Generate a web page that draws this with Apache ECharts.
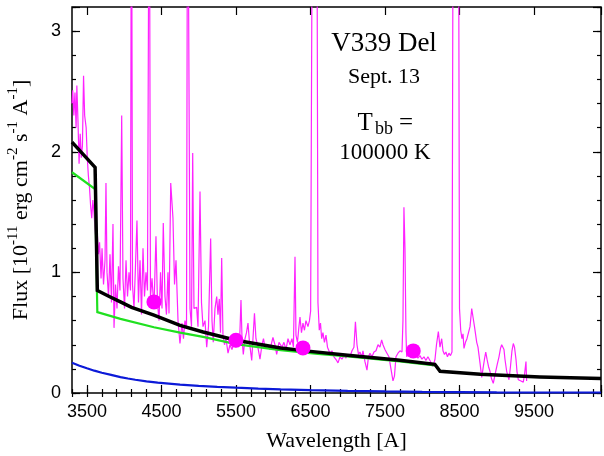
<!DOCTYPE html>
<html>
<head>
<meta charset="utf-8">
<script src="https://cdn.jsdelivr.net/npm/echarts@6.0.0/dist/echarts.min.js"></script>
<style>
  html, body { margin: 0; padding: 0; background: #fff; }
  #chart { width: 604px; height: 456px; }
</style>
</head>
<body>
<div id="chart"></div>
<script>
// observed spectrum (wavelength in A, flux in 1e-11 erg/cm2/s/A)
const spectrumWave = [3300, 3310, 3325, 3340, 3355, 3365, 3380, 3395, 3410, 3425, 3440, 3455, 3470, 3490, 3505, 3520, 3535, 3550, 3565, 3580, 3595, 3610, 3625, 3640, 3655,
  3670, 3690, 3703, 3723, 3743, 3756, 3770, 3790, 3810, 3830, 3850, 3864, 3884, 3904, 3924, 3944, 3967, 3984, 4005, 4025, 4045, 4065, 4085, 4098, 4112, 4132, 4152, 4172, 4192,
  4213, 4233, 4253, 4273, 4293, 4313, 4337, 4353, 4374, 4400, 4427, 4447, 4468, 4488, 4508, 4525, 4548, 4568, 4588, 4602, 4625, 4655, 4676, 4696, 4723, 4749, 4776, 4796, 4816,
  4837, 4852, 4875, 4884, 4904, 4920, 4937, 4973, 4991, 5018, 5038, 5058, 5085, 5108, 5132, 5161, 5179, 5196, 5219, 5242, 5259, 5277, 5293, 5309, 5326, 5347, 5367, 5394, 5420,
  5447, 5474, 5501, 5528, 5548, 5568, 5582, 5599, 5622, 5642, 5662, 5682, 5712, 5729, 5749, 5769, 5789, 5823, 5850, 5870, 5890, 5917, 5957, 5997, 6024, 6047, 6078, 6118, 6145,
  6172, 6199, 6226, 6252, 6272, 6293, 6306, 6326, 6346, 6360, 6380, 6400, 6420, 6440, 6467, 6487, 6503, 6530, 6584, 6601, 6619, 6635, 6651, 6668, 6688, 6709, 6729, 6762, 6789,
  6816, 6852, 6870, 6897, 6923, 6950, 6977, 7004, 7031, 7058, 7084, 7104, 7125, 7145, 7165, 7192, 7205, 7232, 7259, 7279, 7299, 7326, 7353, 7380, 7407, 7433, 7456, 7474, 7500,
  7527, 7554, 7581, 7608, 7628, 7648, 7675, 7702, 7729, 7742, 7755, 7769, 7782, 7792, 7809, 7836, 7863, 7917, 7943, 7970, 7997, 8024, 8050, 8077, 8104, 8124, 8145, 8172, 8192,
  8217, 8239, 8262, 8279, 8299, 8319, 8339, 8359, 8380, 8400, 8418, 8485, 8501, 8517, 8534, 8548, 8561, 8581, 8601, 8622, 8642, 8665, 8682, 8702, 8732, 8749, 8776, 8799, 8816,
  8836, 8853, 8870, 8890, 8910, 8930, 8954, 8977, 9008, 9031, 9051, 9067, 9085, 9098, 9111, 9134, 9165, 9185, 9205, 9223, 9239, 9259, 9272, 9290, 9326, 9357, 9373, 9393, 9402];
const spectrumFlux = [2.40, 2.51, 2.30, 2.49, 2.20, 2.55, 2.26, 1.90, 2.15, 1.95, 2.05, 2.63, 2.30, 2.20, 1.95, 1.80, 1.70, 1.55, 1.45, 1.60, 1.50, 1.35, 1.25, 1.32, 1.15,
  1.25, 0.95, 1.20, 0.90, 1.10, 1.74, 1.00, 0.80, 1.15, 0.75, 1.40, 0.54, 0.90, 0.70, 1.05, 0.85, 2.30, 0.95, 0.70, 1.10, 0.80, 1.00, 0.85, 5.0, 0.90, 0.70, 1.05, 1.43, 0.75,
  1.10, 0.65, 1.20, 0.80, 1.00, 0.85, 5.0, 0.80, 0.95, 0.70, 1.30, 0.75, 0.60, 1.00, 0.70, 1.41, 0.80, 0.65, 1.00, 0.66, 1.74, 1.45, 0.90, 1.10, 0.60, 0.41, 0.58, 0.45, 0.60,
  0.55, 5.0, 5.0, 0.70, 0.55, 1.99, 0.70, 0.71, 0.55, 1.67, 0.75, 0.55, 0.60, 0.38, 0.55, 1.28, 0.60, 0.42, 0.70, 0.80, 0.65, 0.78, 0.50, 1.12, 0.48, 0.40, 0.45, 0.33, 0.40,
  0.36, 0.42, 0.38, 0.45, 0.40, 0.77, 0.45, 0.32, 0.45, 0.50, 0.58, 0.42, 0.27, 0.45, 0.66, 0.45, 0.40, 0.28, 0.40, 0.45, 0.38, 0.40, 0.36, 0.46, 0.40, 0.32, 0.42, 0.38, 0.42,
  0.36, 0.45, 0.40, 0.45, 0.38, 1.13, 0.48, 0.42, 0.55, 0.63, 0.50, 0.58, 0.52, 0.60, 0.55, 0.60, 0.68, 5.0, 5.0, 0.75, 0.52, 0.58, 0.45, 0.50, 0.42, 0.48, 0.38, 0.33, 0.35,
  0.30, 0.27, 0.25, 0.30, 0.28, 0.31, 0.29, 0.32, 0.30, 0.35, 0.38, 0.59, 0.40, 0.32, 0.34, 0.30, 0.35, 0.26, 0.19, 0.30, 0.33, 0.30, 0.34, 0.35, 0.40, 0.38, 0.44, 0.40, 0.36,
  0.33, 0.30, 0.20, 0.10, 0.14, 0.30, 0.33, 0.35, 0.34, 0.60, 1.54, 1.20, 0.50, 0.30, 0.32, 0.33, 0.34, 0.31, 0.29, 0.31, 0.28, 0.30, 0.27, 0.30, 0.27, 0.26, 0.22, 0.28, 0.40,
  0.51, 0.38, 0.45, 0.35, 0.32, 0.34, 0.30, 0.33, 0.31, 0.34, 5.0, 5.0, 0.70, 0.52, 0.45, 0.49, 0.37, 0.42, 0.45, 0.44, 0.55, 0.70, 0.63, 0.55, 0.42, 0.38, 0.25, 0.13, 0.20,
  0.28, 0.34, 0.28, 0.22, 0.18, 0.12, 0.08, 0.15, 0.24, 0.30, 0.37, 0.40, 0.39, 0.36, 0.28, 0.18, 0.11, 0.22, 0.35, 0.41, 0.38, 0.28, 0.18, 0.11, 0.10, 0.09, 0.15, 0.26, 0.10];

// total model (black)
const modelWave = [3300, 3610, 3640, 3800, 3950, 4100, 4400, 4750, 5060, 5500, 6100, 6500, 7000, 7700, 8170, 8240, 8780, 9580, 10400];
const modelFlux = [2.08, 1.87, 0.85, 0.80, 0.755, 0.71, 0.645, 0.56, 0.506, 0.437, 0.373, 0.345, 0.313, 0.272, 0.238, 0.18, 0.155, 0.133, 0.12];

// nebular component (green)
const nebWave = [3300, 3610, 3640, 3950, 4400, 4750, 5060, 5500, 6100, 6600, 7000, 7700, 8170];
const nebFlux = [1.83, 1.69, 0.67, 0.615, 0.545, 0.50, 0.465, 0.405, 0.355, 0.325, 0.303, 0.262, 0.228];

// blackbody 100000 K (blue)
const bbWave = [3300, 3400, 3500, 3600, 3700, 3825, 3950, 4050, 4150, 4300, 4450, 4600, 4750, 5000, 5250, 5500, 5800, 6100, 6500, 7000, 7500, 8000, 9000, 10400];
const bbFlux = [0.25, 0.226, 0.205, 0.185, 0.168, 0.15, 0.132, 0.12, 0.11, 0.097, 0.086, 0.078, 0.07, 0.059, 0.051, 0.044, 0.036, 0.03, 0.024, 0.018, 0.013, 0.01, 0.006, 0.004];

// photometry (B V R I)
const photWave = [4400, 5500, 6400, 7880];
const photFlux = [0.755, 0.437, 0.374, 0.349];

const xTickLabels = [3500, 4500, 5500, 6500, 7500, 8500, 9500];
const yTickLabels = [0, 1, 2, 3];

const pairs = (xs, ys) => xs.map((x, i) => [x, ys[i]]);

const serif = 'Liberation Serif';
const sans = 'Liberation Sans';

// plot box in pixels
const plotLeft = 72, plotRight = 3, plotTop = 7, plotBottom = 63;
const xMin = 3300, xMax = 10400;
// second grid starts at the first labelled tick so its ticks count from 0
const majorLeft = plotLeft + (xTickLabels[0] - xMin) / (xMax - xMin) * (604 - plotLeft - plotRight);

function tickAxis(extra, len) {
  return Object.assign({
    type: 'value',
    axisLine: { show: false },
    splitLine: { show: false },
    axisLabel: { show: false },
    axisTick: { show: true, inside: true, length: len, lineStyle: { color: '#000', width: 1.2 } }
  }, extra);
}

const chart = echarts.init(document.getElementById('chart'));
chart.setOption({
  animation: false,
  backgroundColor: '#fff',
  grid: [
    {
      left: plotLeft, right: plotRight, top: plotTop, bottom: plotBottom,
      containLabel: false, outerBoundsMode: 'none',
      show: true, borderColor: '#000', borderWidth: 1.5, backgroundColor: 'transparent'
    },
    { left: majorLeft, right: plotRight, top: plotTop, bottom: plotBottom, containLabel: false, outerBoundsMode: 'none' }
  ],
  xAxis: [
    { type: 'value', gridIndex: 0, min: xMin, max: xMax, show: false },
    tickAxis({
      gridIndex: 0, position: 'bottom', min: 0, max: xMax - xMin, interval: 200,
      name: 'Wavelength [A]', nameLocation: 'middle', nameGap: 37,
      nameTextStyle: { fontFamily: serif, fontSize: 22, color: '#000' }
    }, 4),
    tickAxis({ gridIndex: 0, position: 'top', min: 0, max: xMax - xMin, interval: 200 }, 4),
    tickAxis({
      gridIndex: 1, position: 'bottom', min: 0, max: xMax - xTickLabels[0], interval: 1000,
      axisLabel: {
        show: true, margin: 10, fontFamily: sans, fontSize: 18, color: '#000',
        formatter: v => xTickLabels.includes(v + xTickLabels[0]) ? String(v + xTickLabels[0]) : ''
      }
    }, 8),
    tickAxis({ gridIndex: 1, position: 'top', min: 0, max: xMax - xTickLabels[0], interval: 1000 }, 8)
  ],
  yAxis: [
    { type: 'value', gridIndex: 0, min: 0, max: 3.2, show: false },
    tickAxis({
      gridIndex: 0, position: 'left', min: 0, max: 3.2, interval: 0.2,
      name: 'Flux [10{s|-11} erg cm{s|-2} s{s|-1} A{s|-1}]', nameLocation: 'middle', nameGap: 36, nameRotate: 90,
      nameTextStyle: {
        fontFamily: serif, fontSize: 22, color: '#000', lineHeight: 30,
        rich: { s: { fontFamily: serif, fontSize: 15, color: '#000', verticalAlign: 'top', lineHeight: 14 } }
      }
    }, 4),
    tickAxis({ gridIndex: 0, position: 'right', min: 0, max: 3.2, interval: 0.2 }, 4),
    tickAxis({
      gridIndex: 0, position: 'left', min: 0, max: 3.2, interval: 1,
      axisLabel: {
        show: true, margin: 11, fontFamily: sans, fontSize: 18, color: '#000',
        formatter: v => yTickLabels.includes(v) ? String(v) : ''
      }
    }, 8),
    tickAxis({ gridIndex: 0, position: 'right', min: 0, max: 3.2, interval: 1 }, 8),
    { type: 'value', gridIndex: 1, min: 0, max: 1, show: false }
  ],
  graphic: [
    { type: 'text', x: 384, y: 44, style: { text: 'V339 Del', font: '27px "Liberation Serif"', fill: '#000', textAlign: 'center', textVerticalAlign: 'middle' } },
    { type: 'text', x: 384, y: 77.5, style: { text: 'Sept. 13', font: '22px "Liberation Serif"', fill: '#000', textAlign: 'center', textVerticalAlign: 'middle' } },
    { type: 'text', x: 357.5, y: 123.2, style: { text: 'T', font: '25px "Liberation Serif"', fill: '#000', textAlign: 'left', textVerticalAlign: 'middle' } },
    { type: 'text', x: 375, y: 129.4, style: { text: 'bb', font: '18px "Liberation Serif"', fill: '#000', textAlign: 'left', textVerticalAlign: 'middle' } },
    { type: 'text', x: 399, y: 123.2, style: { text: '=', font: '25px "Liberation Serif"', fill: '#000', textAlign: 'left', textVerticalAlign: 'middle' } },
    { type: 'text', x: 385, y: 153, style: { text: '100000 K', font: '23px "Liberation Serif"', fill: '#000', textAlign: 'center', textVerticalAlign: 'middle' } }
  ],
  series: [
    {
      name: 'spectrum', type: 'line', xAxisIndex: 0, yAxisIndex: 0,
      data: pairs(spectrumWave, spectrumFlux), showSymbol: false, clip: true,
      lineStyle: { color: '#ff22ff', width: 1.2 }, z: 1
    },
    {
      name: 'blackbody', type: 'line', xAxisIndex: 0, yAxisIndex: 0,
      data: pairs(bbWave, bbFlux), showSymbol: false,
      lineStyle: { color: '#0c1ad8', width: 2.2 }, z: 2
    },
    {
      name: 'nebular', type: 'line', xAxisIndex: 0, yAxisIndex: 0,
      data: pairs(nebWave, nebFlux), showSymbol: false,
      lineStyle: { color: '#20e020', width: 2.2, join: 'miter' }, z: 3
    },
    {
      name: 'model', type: 'line', xAxisIndex: 0, yAxisIndex: 0,
      data: pairs(modelWave, modelFlux), showSymbol: false,
      lineStyle: { color: '#000', width: 3.5, join: 'miter' }, z: 4
    },
    {
      name: 'photometry', type: 'scatter', xAxisIndex: 0, yAxisIndex: 0,
      data: pairs(photWave, photFlux), symbolSize: 15,
      itemStyle: { color: '#ff00ff', opacity: 1 }, z: 5
    }
  ]
});
</script>
</body>
</html>
